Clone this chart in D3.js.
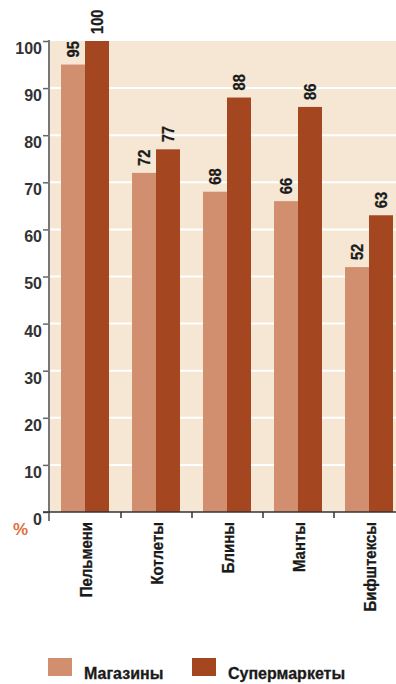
<!DOCTYPE html>
<html>
<head>
<meta charset="utf-8">
<script src="https://cdn.jsdelivr.net/npm/d3@7/dist/d3.min.js"></script>
<style>
  html, body { margin: 0; padding: 0; background: #fff; }
  svg { display: block; }
  text { font-family: "Liberation Sans", Arial, Helvetica, sans-serif; font-weight: bold; }
</style>
</head>
<body>
<svg id="chart" width="396" height="684"></svg>
<script>
// Доля покупателей, %
const categories = ["Пельмени", "Котлеты", "Блины", "Манты", "Бифштексы"];
const seriesNames = ["Магазины", "Супермаркеты"];
const shops = [95, 72, 68, 66, 52];
const supermarkets = [100, 77, 88, 86, 63];
const yTicks = [0, 10, 20, 30, 40, 50, 60, 70, 80, 90, 100];
const seriesColors = ["#d18f6f", "#a4461f"];

const svg = d3.select("#chart");
const W = 396;
const plot = { left: 50, top: 41, bottom: 512, right: 405 };
const INK = "#1a1a1a";

const y = d3.scaleLinear().domain([0, 100]).range([plot.bottom, plot.top]);
const x0 = d3.scaleBand().domain(categories).range([plot.left, plot.right]).padding(0);
const x1 = d3.scaleBand().domain(seriesNames).range([11, 59]).padding(0);
const color = d3.scaleOrdinal().domain(seriesNames).range(seriesColors);

const rows = categories.map((c, i) => ({ category: c, values: [shops[i], supermarkets[i]] }));

// plot background
svg.append("rect")
  .attr("x", plot.left).attr("y", y(100))
  .attr("width", W - plot.left).attr("height", y(0) - y(100))
  .attr("fill", "#f5e7d4");

// white grid lines
svg.append("g").selectAll("line")
  .data(yTicks.filter(t => t > 0 && t < 100))
  .join("line")
  .attr("x1", plot.left).attr("x2", W)
  .attr("y1", d => y(d)).attr("y2", d => y(d))
  .attr("stroke", "#fff").attr("stroke-width", 2);

// bars
const groups = svg.append("g").selectAll("g")
  .data(rows).join("g")
  .attr("transform", d => `translate(${x0(d.category)},0)`);

groups.selectAll("rect")
  .data(d => d.values.map((v, i) => ({ key: seriesNames[i], value: v })))
  .join("rect")
  .attr("x", d => x1(d.key))
  .attr("y", d => y(d.value))
  .attr("width", x1.bandwidth())
  .attr("height", d => y(0) - y(d.value))
  .attr("fill", d => color(d.key));

// value labels above bars, rotated and condensed
groups.selectAll("text.val")
  .data(d => d.values.map((v, i) => ({ key: seriesNames[i], value: v })))
  .join("text")
  .attr("class", "val")
  .attr("transform", d => `translate(${x1(d.key) + x1.bandwidth() / 2},${y(d.value) - 7}) rotate(-90) scale(0.92,1)`)
  .attr("dy", "0.36em")
  .attr("text-anchor", "start")
  .attr("font-size", 16)
  .attr("fill", INK)
  .attr("stroke", INK).attr("stroke-width", 0.3)
  .text(d => d.value);

// y axis
const yAxis = svg.append("g")
  .attr("transform", `translate(${plot.left},0)`)
  .call(d3.axisLeft(y).tickValues(yTicks).tickSize(7).tickPadding(1).tickFormat(d3.format("d")));
yAxis.select(".domain").remove();
yAxis.selectAll(".tick line").attr("stroke", "#666").attr("stroke-width", 1.5);
yAxis.selectAll(".tick text")
  .attr("font-size", 16)
  .attr("font-family", "'Liberation Sans', Arial, sans-serif")
  .attr("font-weight", "bold")
  .attr("fill", "#333")
  .attr("dy", "0.78em");
yAxis.append("line")
  .attr("x1", -1).attr("x2", -1)
  .attr("y1", y(100) - 1).attr("y2", y(0) + 9)
  .attr("stroke", "#777").attr("stroke-width", 2);

// x axis with ticks between categories
const bounds = categories.slice(1).map(c => x0(c));
const xAxis = svg.append("g");
xAxis.append("line")
  .attr("x1", plot.left - 7).attr("x2", W)
  .attr("y1", y(0)).attr("y2", y(0))
  .attr("stroke", "#333").attr("stroke-width", 1.5);
xAxis.selectAll("line.tick")
  .data(bounds).join("line")
  .attr("class", "tick")
  .attr("x1", d => d).attr("x2", d => d)
  .attr("y1", y(0)).attr("y2", y(0) + 6)
  .attr("stroke", "#333").attr("stroke-width", 1.5);

// category labels, rotated and condensed
svg.append("g").selectAll("text")
  .data(categories).join("text")
  .attr("transform", d => `translate(${x0(d) + x0.bandwidth() / 2},${y(0) + 10}) rotate(-90) scale(0.88,1)`)
  .attr("dy", "0.36em")
  .attr("text-anchor", "end")
  .attr("font-size", 17)
  .attr("fill", INK)
  .attr("stroke", INK).attr("stroke-width", 0.3)
  .text(d => d);

// unit sign
svg.append("text")
  .attr("x", 13).attr("y", 535)
  .attr("font-size", 17)
  .attr("fill", "#e0703f")
  .text("%");

// legend
const legend = svg.append("g").selectAll("g")
  .data(seriesNames).join("g")
  .attr("transform", (d, i) => `translate(${[48, 192][i]},658)`);
legend.append("rect")
  .attr("width", 24).attr("height", 18)
  .attr("fill", d => color(d));
legend.append("text")
  .attr("x", 36).attr("y", 21)
  .attr("font-size", 16)
  .attr("fill", INK)
  .attr("stroke", INK).attr("stroke-width", 0.3)
  .text(d => d);
</script>
</body>
</html>
